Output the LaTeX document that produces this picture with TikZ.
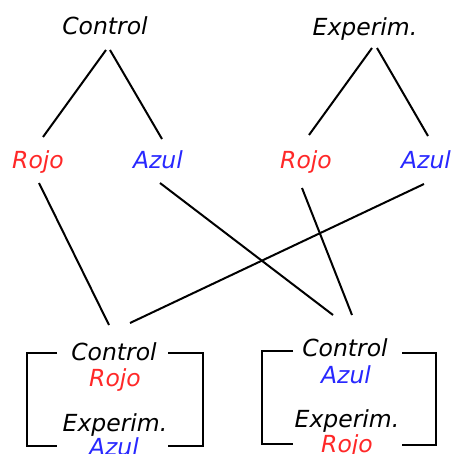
\documentclass[tikz,border=0pt]{standalone}
\usepackage{fontspec}
\setmainfont{DejaVu Sans}[ItalicFont = {DejaVu Sans Oblique}]
\definecolor{rojo}{RGB}{255,40,40}
\definecolor{azul}{RGB}{40,40,255}
\begin{document}
\begin{tikzpicture}[x = 1pt, y = -1pt, line width = 2pt, font = \fontsize{23.5}{26}\selectfont\itshape]

\useasboundingbox (0, 0) rectangle (453, 454);

\def\word{node [inner xsep = 2pt, inner ysep = 9pt, text height = 17pt, text depth = 5pt] }

% top groups
\path (105, 29) \word (ctrl) {Control};
\path (365, 30) \word (exper) {Experim.};

\path (38, 162) \word (rojoA) [text = rojo] {Rojo};
\path (158, 162) \word (azulA) [text = azul] {Azul};
\path (306, 163) \word (rojoB) [text = rojo] {Rojo};
\path (426, 163) \word (azulB) [text = azul] {Azul};

% bottom pairs
\path (114, 354) \word (ctrlL) {Control};
\path (115, 380) \word (rojoL) [text = rojo] {Rojo};
\path (115, 425) \word (expL) {Experim.};
\path (114, 449) \word (azulL) [text = azul] {Azul};

\path (345, 350) \word (ctrlR) {Control};
\path (346, 377) \word (azulR) [text = azul] {Azul};
\path (347, 421) \word (expR) {Experim.};
\path (347, 446) \word (rojoR) [text = rojo] {Rojo};

\draw ([xshift = 1pt]ctrl.south) -- ([xshift = 5pt, yshift = 4pt]rojoA.north);
\draw ([xshift = 5pt]ctrl.south) -- ([xshift = 4pt, yshift = 2pt]azulA.north);
\draw ([xshift = 7pt, yshift = 3pt]exper.south) -- ([xshift = 3pt, yshift = 7pt]rojoB.north);
\draw ([xshift = 12pt, yshift = 3pt]exper.south) -- ([xshift = 2pt, yshift = 6pt]azulB.north);

\draw ([xshift = 1pt]rojoA.south) -- ([xshift = -5pt, yshift = 8pt]ctrlL.north);
\draw ([xshift = 2pt]azulA.south) -- ([xshift = -12pt, yshift = 14pt]ctrlR.north);
\draw ([xshift = -4pt, yshift = -4pt]rojoB.south) -- ([xshift = 7pt, yshift = 14pt]ctrlR.north);
\draw ([xshift = -2pt]azulB.south) -- ([xshift = 16pt, yshift = 10pt]ctrlL.north);

% brackets
\draw (57, 353) -- (27, 353) -- (27, 446) -- (57, 446);
\draw (168, 353) -- (203, 353) -- (203, 446) -- (168, 446);
\draw (293, 351) -- (262, 351) -- (262, 444) -- (293, 444);
\draw (402, 353) -- (436, 353) -- (436, 445) -- (402, 445);

\end{tikzpicture}
\end{document}
